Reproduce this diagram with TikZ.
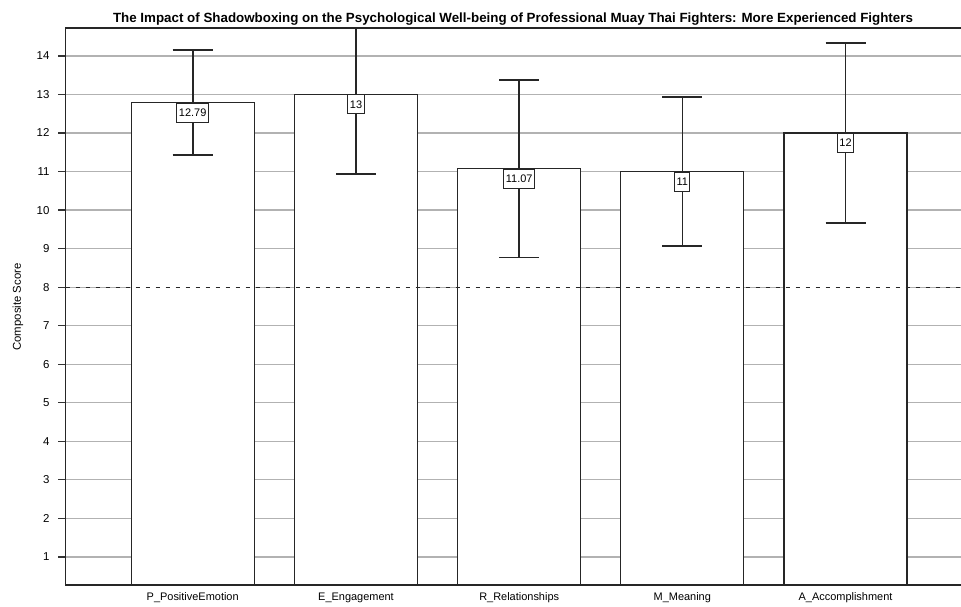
\documentclass[tikz,border=0pt]{standalone}
\usepackage{fontspec}
\setmainfont{Liberation Sans}
\begin{document}
\begin{tikzpicture}[x=1bp,y=38.54bp,
  grid/.style={draw=black!30,line width=1.2bp},
  bar/.style={draw=black!85,line width=1.3bp,fill=white},
  err/.style={draw=black!85,line width=1.6bp},
  vlabel/.style={draw=black!85,fill=white,line width=1bp,font=\fontsize{11}{13}\selectfont,inner xsep=2bp,inner ysep=0bp,minimum height=19bp,anchor=north},
  tick/.style={font=\fontsize{11.5}{13}\selectfont,anchor=east},
  xlab/.style={font=\fontsize{11}{13}\selectfont,anchor=base}]
\useasboundingbox (0,-0.2984) rectangle (961,15.451);
\fill[white] (0,-0.2984) rectangle (961,15.451);
% gridlines and ticks
\foreach \v in {1,...,14}{
  \draw[grid] (65.5,\v) -- (961,\v);
  \draw[black!80,line width=1.2bp] (58,\v) -- (65.5,\v);
  \node[tick] (t\v) at (53,\v) {\v};
}
% bars
\foreach \n/\cx/\val/\lo/\hi/\lab in {p/192.7/12.79/11.43/14.16/12.79, e/356/13/10.93/14.725/13, r/519.2/11.07/8.77/13.37/11.07, m/682.3/11/9.07/12.93/11, a/845.5/12/9.67/14.33/12}{
  \draw[bar] (\cx-61.5,0.272) rectangle (\cx+61.5,\val);
  \coordinate (top\n) at (\cx,\hi);
  \coordinate (bot\n) at (\cx,\lo);
  \draw[err] (top\n) -- (bot\n);
  \draw[err] ([xshift=-20bp]bot\n) -- ([xshift=20bp]bot\n);
  \node[vlabel] (lab\n) at (\cx,\val) {\lab};
}
\draw[err] ([xshift=-20bp]topp) -- ([xshift=20bp]topp);
\draw[err] ([xshift=-20bp]topr) -- ([xshift=20bp]topr);
\draw[err] ([xshift=-20bp]topm) -- ([xshift=20bp]topm);
\draw[err] ([xshift=-20bp]topa) -- ([xshift=20bp]topa);
% reference line
\draw[black!85,line width=1.3bp,dash pattern=on 4bp off 6bp] (65.5,8) -- (961,8);
% frame
\draw[black!85,line width=1.6bp] (961,14.725) -- (65.5,14.725) -- (65.5,0.272) -- (961,0.272);
% x labels
\node[xlab] (xp) at (192.7,-0.143) {P\_PositiveEmotion};
\node[xlab] (xe) at (356,-0.143) {E\_Engagement};
\node[xlab] (xr) at (519.2,-0.143) {R\_Relationships};
\node[xlab] (xm) at (682.3,-0.143) {M\_Meaning};
\node[xlab] (xa) at (845.5,-0.143) {A\_Accomplishment};
% axis title
\node[rotate=90,font=\fontsize{11.4}{13}\selectfont] (ytitle) at (18,7.486) {Composite Score};
% title
\node[font=\bfseries\fontsize{13.4}{15}\selectfont,anchor=base] (title) at (513,14.855) {The Impact of Shadowboxing on the Psychological Well-being of Professional Muay Thai Fighters: More Experienced Fighters};
\end{tikzpicture}
\end{document}
